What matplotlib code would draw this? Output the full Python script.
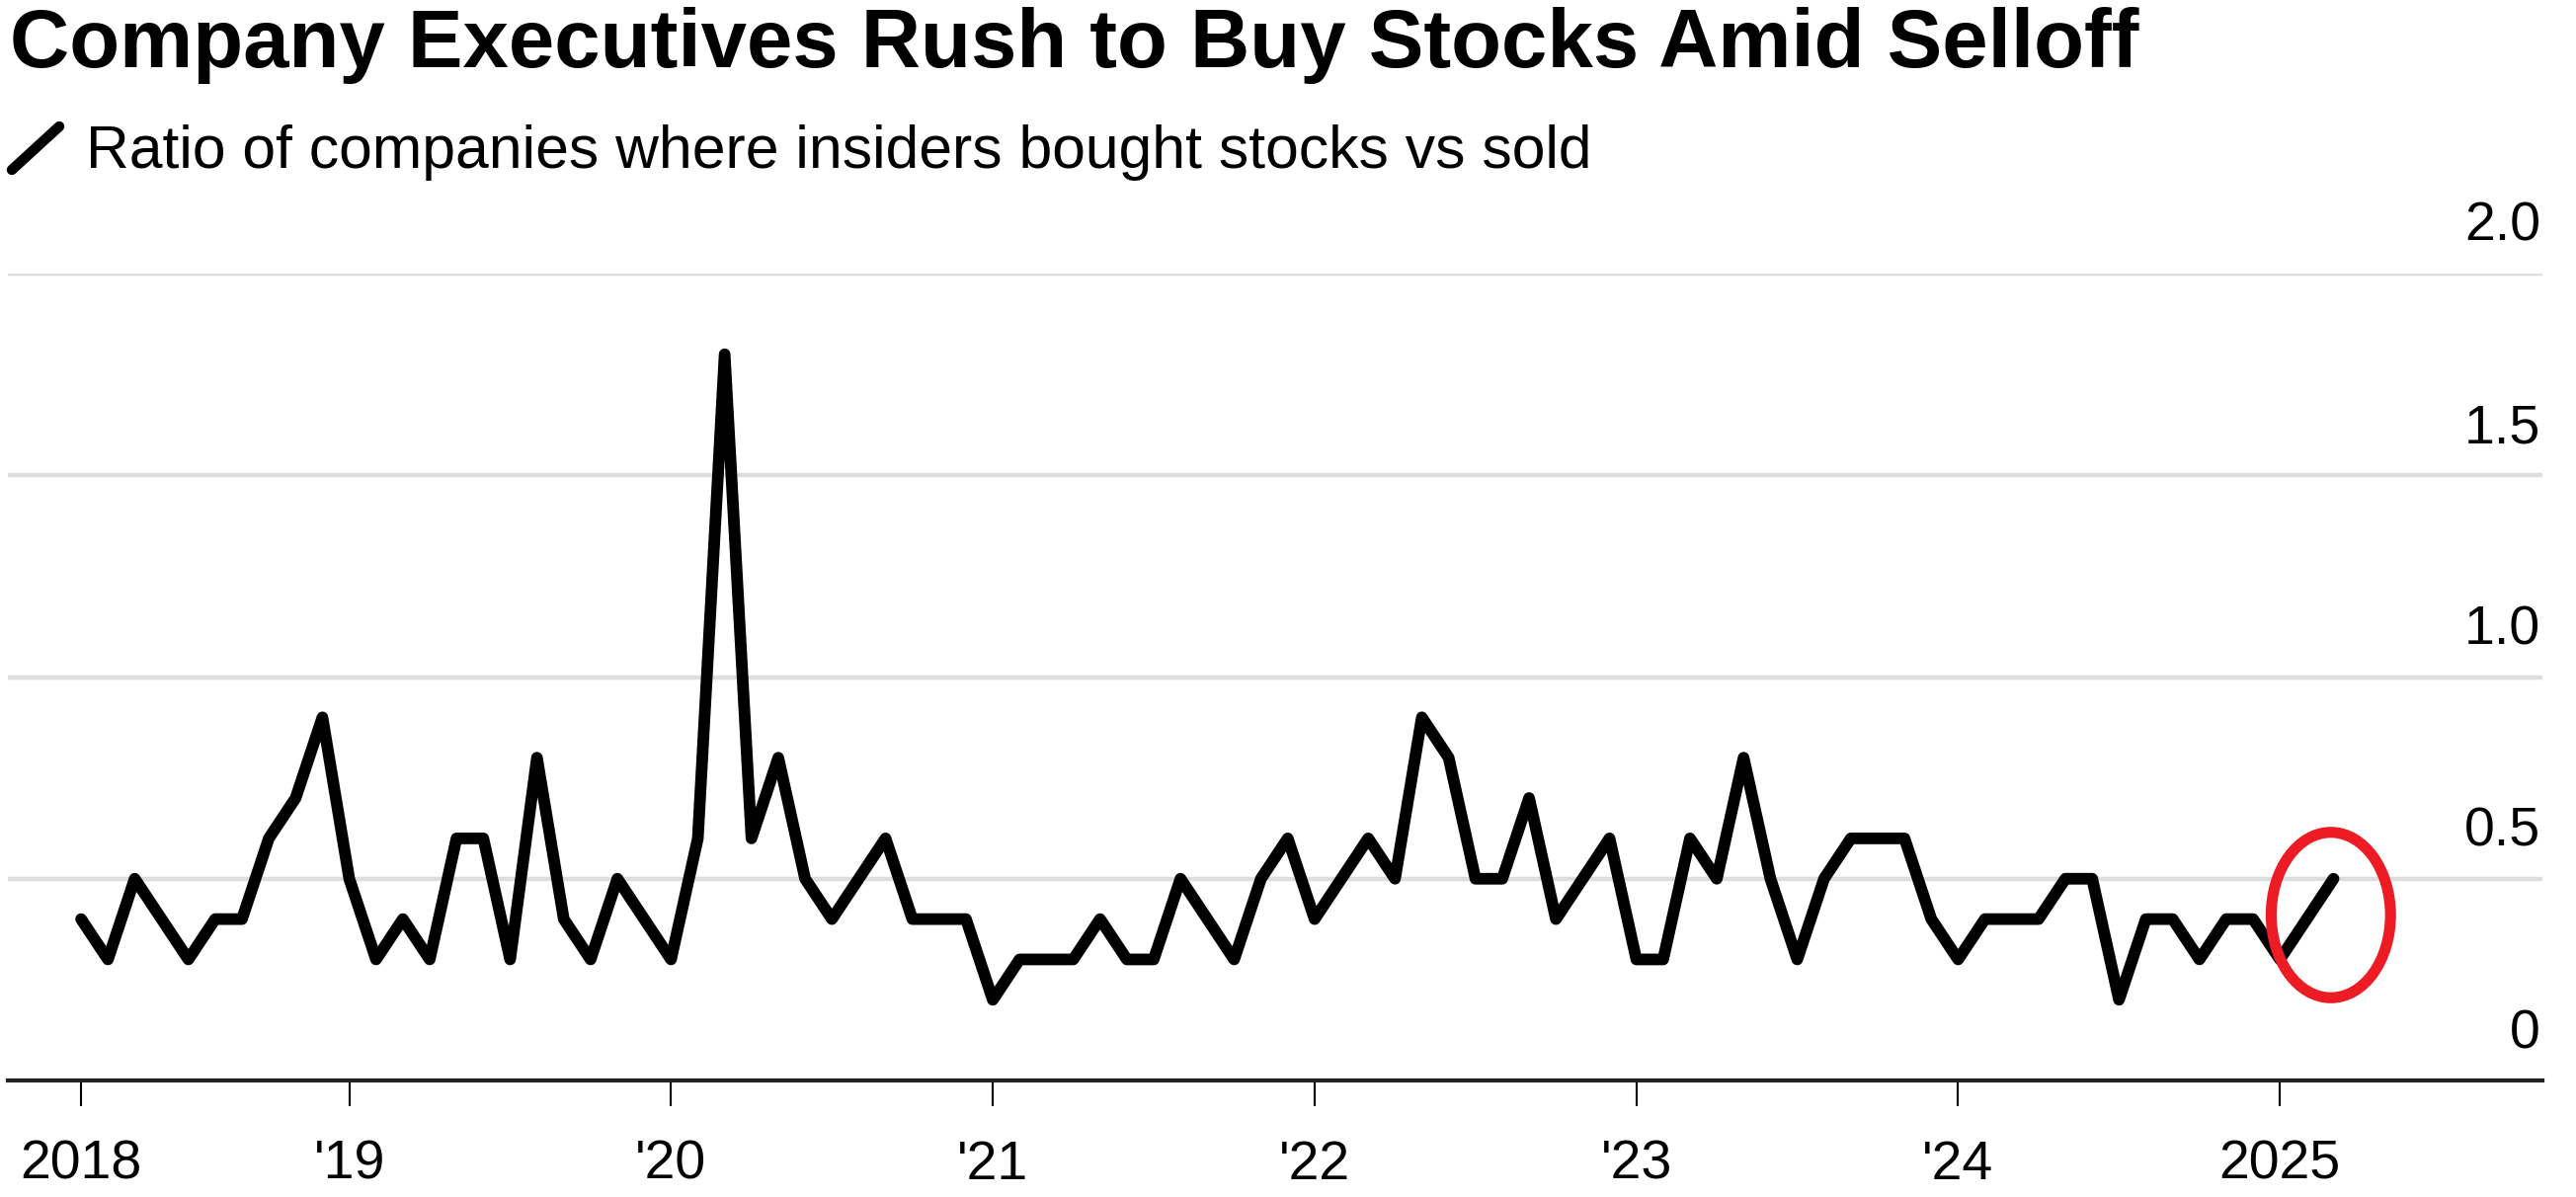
import numpy as np
import matplotlib
matplotlib.use("Agg")
import matplotlib.pyplot as plt
import matplotlib.transforms as mtransforms
from matplotlib.patches import Ellipse
from matplotlib.lines import Line2D

# monthly ratio, Mar 2018 .. Mar 2025
first_month = (2018, 3)
ratio = [0.4, 0.3, 0.5, 0.4, 0.3, 0.4, 0.4, 0.6, 0.7, 0.9,
         0.5, 0.3, 0.4, 0.3, 0.6, 0.6, 0.3, 0.8, 0.4, 0.3, 0.5, 0.4,
         0.3, 0.6, 1.8, 0.6, 0.8, 0.5, 0.4, 0.5, 0.6, 0.4, 0.4, 0.4,
         0.2, 0.3, 0.3, 0.3, 0.4, 0.3, 0.3, 0.5, 0.4, 0.3, 0.5, 0.6,
         0.4, 0.5, 0.6, 0.5, 0.9, 0.8, 0.5, 0.5, 0.7, 0.4, 0.5, 0.6,
         0.3, 0.3, 0.6, 0.5, 0.8, 0.5, 0.3, 0.5, 0.6, 0.6, 0.6, 0.4,
         0.3, 0.4, 0.4, 0.4, 0.5, 0.5, 0.2, 0.4, 0.4, 0.3, 0.4, 0.4,
         0.3, 0.4, 0.5]

tick_months = [(2018, 3), (2019, 1), (2020, 1), (2021, 1), (2022, 1),
               (2023, 1), (2024, 1), (2025, 1)]
tick_labels = ["2018", "'19", "'20", "'21", "'22", "'23", "'24", "2025"]

y_ticks = [0, 0.5, 1.0, 1.5, 2.0]
y_labels = ["0", "0.5", "1.0", "1.5", "2.0"]

title = "Company Executives Rush to Buy Stocks Amid Selloff"
subtitle = "Ratio of companies where insiders bought stocks vs sold"

plt.rcParams["font.family"] = ["Liberation Sans", "DejaVu Sans"]

W, H = 2608, 1212
fig = plt.figure(figsize=(W / 100, H / 100), dpi=100)
fig.patch.set_facecolor("white")

# axes: left edge 8px, right edge 2574px, y=0 at 1094px, y=2 at 277px (from top)
ax = fig.add_axes([8 / W, 1 - 1094 / H, 2566 / W, (1094 - 277) / H])

def month_index(ym):
    return (ym[0] - first_month[0]) * 12 + (ym[1] - first_month[1])

x = np.arange(len(ratio))
ax.plot(x, ratio, color="black", lw=8.5, solid_joinstyle="round",
        solid_capstyle="round", zorder=3, clip_on=False)

ax.set_xlim(-2.73, 91.79)
ax.set_ylim(0, 2.0)

# grid + axis line
ax.set_yticks(y_ticks)
ax.yaxis.grid(True, color="#dddddd", lw=3.2)
ax.set_axisbelow(True)
ax.tick_params(axis="y", length=0, labelleft=False)
for s in ["top", "right", "left"]:
    ax.spines[s].set_visible(False)
ax.spines["bottom"].set_color("#222222")
ax.spines["bottom"].set_linewidth(3)
ax.spines["bottom"].set_zorder(4)

ax.set_xticks([month_index(m) for m in tick_months])
ax.set_xticklabels(tick_labels, fontsize=40)
ax.tick_params(axis="x", length=19, width=1.5, color="black", pad=24)

# y labels sit above the gridlines at the right edge
ylab_trans = mtransforms.offset_copy(ax.get_yaxis_transform(), fig=fig,
                                     x=-2, y=33, units="dots")
for v, lab in zip(y_ticks, y_labels):
    ax.text(1.0, v, lab, transform=ylab_trans, ha="right", va="baseline",
            fontsize=40, color="black")

# red circle around latest reading
ax.add_patch(Ellipse((83.9, 0.41), 4.45, 0.41, fill=False,
                     edgecolor="#ed1c24", lw=8, zorder=5, clip_on=False))

# title and legend
fig.text(10 / W, 1 - 68 / H, title, fontsize=60, fontweight="bold",
         va="baseline", ha="left")
fig.add_artist(Line2D([12 / W, 60 / W], [1 - 172 / H, 1 - 128 / H],
                      transform=fig.transFigure, color="black", lw=7.5,
                      solid_capstyle="round"))
fig.text(87 / W, 1 - 170 / H, subtitle, fontsize=43.7, va="baseline", ha="left")

fig.savefig("out.png", dpi=100, facecolor="white")
